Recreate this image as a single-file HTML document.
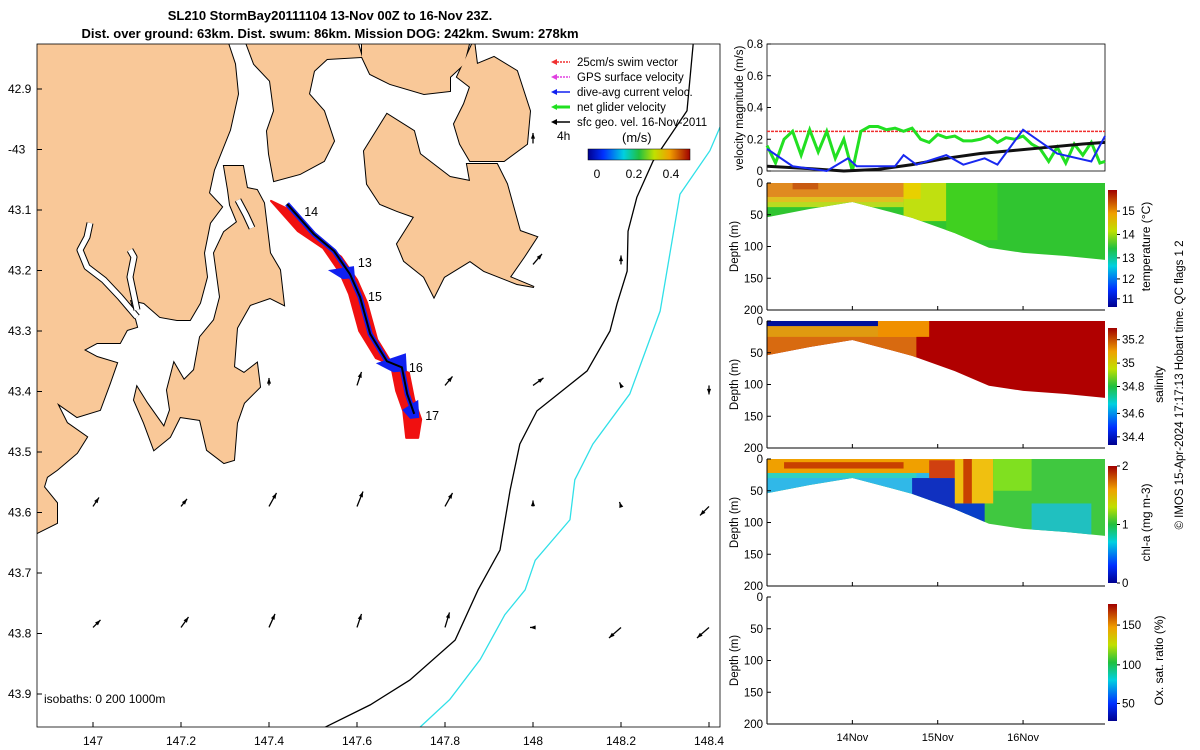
<!DOCTYPE html>
<html><head><meta charset="utf-8"><style>
body{margin:0;background:#fff;}
svg{display:block;font-family:"Liberation Sans",sans-serif;}
</style></head><body>
<svg id="c" width="1200" height="750" viewBox="0 0 1200 750" xmlns="http://www.w3.org/2000/svg">
<defs>
<linearGradient id="jet" x1="0" y1="1" x2="0" y2="0">
<stop offset="0" stop-color="#00008f"/><stop offset="0.15" stop-color="#0030ff"/><stop offset="0.35" stop-color="#00d0e0"/><stop offset="0.5" stop-color="#20c040"/><stop offset="0.65" stop-color="#c0e000"/><stop offset="0.8" stop-color="#f0a000"/><stop offset="1" stop-color="#a00000"/></linearGradient>
<linearGradient id="jeth" x1="0" y1="0" x2="1" y2="0">
<stop offset="0" stop-color="#00008f"/><stop offset="0.15" stop-color="#0030ff"/><stop offset="0.35" stop-color="#00d0e0"/><stop offset="0.5" stop-color="#20c040"/><stop offset="0.65" stop-color="#c0e000"/><stop offset="0.8" stop-color="#f0a000"/><stop offset="1" stop-color="#a00000"/></linearGradient>
<clipPath id="mapclip"><rect x="37" y="44" width="683" height="683"/></clipPath>
</defs>
<text x="330" y="20" text-anchor="middle" font-size="13" font-weight="bold">SL210 StormBay20111104 13-Nov 00Z to 16-Nov 23Z.</text>
<text x="330" y="38" text-anchor="middle" font-size="13" font-weight="bold">Dist. over ground: 63km. Dist. swum: 86km. Mission DOG: 242km. Swum: 278km</text>
<g id="map" clip-path="url(#mapclip)"></g>
<rect x="37" y="44" width="683" height="683" fill="none" stroke="#000" stroke-width="0.8"/>
<g id="mapaxes"></g>
<g id="right"></g>
<text transform="translate(1183,385) rotate(-90)" text-anchor="middle" font-size="11.5">© IMOS 15-Apr-2024 17:17:13 Hobart time. QC flags 1  2</text>
</svg>
<script>
// ---------- data ----------
const mapLonTicks=[147,147.2,147.4,147.6,147.8,148,148.2,148.4];
const mapLatTicks=[42.9,43,43.1,43.2,43.3,43.4,43.5,43.6,43.7,43.8,43.9];
const mapLatLabels=["42.9","-43","43.1","43.2","43.3","43.4","43.5","43.6","43.7","43.8","43.9"];
const trackLon=[147.441,147.502,147.548,147.584,147.607,147.630,147.668,147.702,147.714,147.730];
const trackLat=[43.090,43.140,43.168,43.206,43.244,43.305,43.350,43.360,43.404,43.437];
const dayLabels=["14","13","15","16","17"];
const dayLon=[147.48,147.602,147.625,147.718,147.755];
const dayLat=[43.11,43.194,43.25,43.368,43.447];
const arrowLon=[148.0,148.2,148.0,147.4,147.6,147.8,148.0,148.2,148.4,147.0,147.2,147.4,147.6,147.8,148.0,148.2,148.4,147.0,147.2,147.4,147.6,147.8,148.0,148.2,148.4];
const arrowLat=[42.99,43.19,43.19,43.39,43.39,43.39,43.39,43.39,43.39,43.59,43.59,43.59,43.59,43.59,43.59,43.59,43.59,43.79,43.79,43.79,43.79,43.79,43.79,43.79,43.79];
const arrowU=[0.0,0.0,0.06,0.0,0.03,0.05,0.07,-0.01,0.0,0.04,0.04,0.05,0.04,0.05,0.0,-0.01,-0.06,0.05,0.05,0.04,0.03,0.03,-0.02,-0.08,-0.08];
const arrowV=[0.07,0.06,0.07,0.05,0.09,0.06,0.05,0.02,-0.06,0.06,0.05,0.09,0.10,0.09,0.04,0.03,-0.06,0.05,0.07,0.09,0.09,0.10,0.0,-0.07,-0.07];
const iso200Lon=[148.364,148.350,148.273,148.236,148.216,148.214,148.191,148.175,148.123,148.009,147.970,147.948,147.925,147.875,147.823,147.720,147.630,147.527];
const iso200Lat=[42.826,42.936,43.019,43.079,43.135,43.201,43.255,43.300,43.366,43.432,43.487,43.563,43.662,43.728,43.811,43.877,43.918,43.955];
const iso1000Lon=[148.425,148.402,148.334,148.289,148.220,148.136,148.095,148.084,148.005,147.982,147.936,147.880,147.811,147.743];
const iso1000Lat=[42.963,43.002,43.074,43.267,43.404,43.487,43.546,43.612,43.679,43.728,43.769,43.843,43.909,43.955];
// velocity panel
const velGreenT=[0,0.1,0.2,0.3,0.4,0.5,0.6,0.7,0.8,0.9,1.0,1.1,1.2,1.3,1.4,1.5,1.6,1.7,1.8,1.9,2.0,2.1,2.2,2.3,2.4,2.5,2.6,2.7,2.8,2.9,3.0,3.1,3.2,3.3,3.4,3.5,3.6,3.7,3.8,3.9,3.96];
const velGreen=[0.16,0.05,0.2,0.25,0.1,0.26,0.12,0.25,0.08,0.2,0.0,0.25,0.28,0.28,0.26,0.27,0.25,0.27,0.2,0.18,0.23,0.21,0.22,0.19,0.19,0.2,0.22,0.18,0.21,0.2,0.22,0.17,0.14,0.06,0.15,0.05,0.17,0.1,0.18,0.05,0.06];
const velBlueT=[0,0.3,0.7,0.95,1.05,1.5,1.6,1.75,2.1,2.3,2.55,2.7,3.0,3.4,3.8,3.96];
const velBlue=[0.14,0.03,0.0,0.08,0.03,0.03,0.1,0.04,0.1,0.04,0.08,0.04,0.26,0.11,0.06,0.22];
const velBlackT=[0,0.5,0.9,1.3,1.7,2.1,2.5,2.9,3.3,3.7,3.96];
const velBlack=[0.03,0.015,0.0,0.01,0.04,0.08,0.11,0.13,0.15,0.17,0.18];
const swimSpeed=0.25;
const velTicks=[0,0.2,0.4,0.6,0.8];
// sections
const bottomT=[0,0.5,1.0,1.4,1.7,2.2,2.6,3.0,3.5,3.96];
const bottomD=[54,41,30,44,55,79,102,110,115,121];
const depthTicks=[0,50,100,150,200];
const dayTicks=[1,2,3];
const dayTickLabels=["14Nov","15Nov","16Nov"];
const tempLayers=[[0,4,0,200,"#30c530"],[0,1.6,0,38,"#b8dc20"],[0,1.6,0,30,"#e0c020"],[0,1.6,0,22,"#e08a20"],[0.3,0.6,0,10,"#c85a10"],[1.6,2.1,0,60,"#c0e010"],[1.6,1.8,0,25,"#e8d000"],[2.1,2.7,0,90,"#40d020"]];
const salLayers=[[0,4,0,200,"#b00000"],[0,1.75,0,200,"#d86a10"],[0,1.75,0,25,"#e09a10"],[0,1.6,0,8,"#00109a"],[1.3,1.9,0,25,"#f09000"]];
const chlLayers=[[0,4,0,200,"#40c840"],[0,2.25,0,200,"#30b8e8"],[0,1.75,0,30,"#30d0c0"],[0,2.2,0,22,"#f0a000"],[0.2,1.6,5,15,"#c84000"],[1.7,2.35,30,200,"#1030c0"],[2.2,2.55,50,200,"#0840c8"],[1.9,2.3,2,30,"#d04010"],[2.2,2.65,0,70,"#f0c010"],[2.3,2.4,0,70,"#c84000"],[2.65,3.1,0,50,"#80e020"],[3.1,3.8,70,200,"#20c0c0"]];
const tempCbTicks=["11","12","13","14","15"];
const tempCbFrac=[0.07,0.24,0.42,0.62,0.82];
const salCbTicks=["34.4","34.6","34.8","35","35.2"];
const salCbFrac=[0.07,0.27,0.5,0.7,0.9];
const chlCbTicks=["0","1","2"];
const chlCbFrac=[0,0.5,1];
const oxCbTicks=["50","100","150"];
const oxCbFrac=[0.15,0.48,0.82];
// ---------- helpers ----------
const NS="http://www.w3.org/2000/svg";
function mk(tag,attrs,parent,text){const e=document.createElementNS(NS,tag);for(const k in attrs)e.setAttribute(k,attrs[k]);if(text!==undefined)e.textContent=text;parent.appendChild(e);return e;}
const mx=lon=>93+(lon-147)*440;
const my=lat=>89+(lat-42.9)*605;
const map=document.getElementById('map');
const mapaxes=document.getElementById('mapaxes');
const right=document.getElementById('right');
// ---------- land ----------
const land="#f9c898";
const lg=mk('g',{},map);


const lands=[
// mainland (west)
"30,40 227,40 235,64 238,94 230,130 220,155 214,170 209,193 222,207 210,223 204,253 207,277 200,303 190,320 177,320 160,317 144,303 130,300 137,327 127,330 120,343 97,343 84,350 97,357 117,363 110,383 100,410 77,417 57,403 67,423 87,437 77,453 57,470 47,477 44,487 57,503 57,523 37,533 30,540",
// middle peninsula + southern peninsula
"224,166 243,166 247,188 257,190 264,203 270,253 280,270 284,305 270,298 250,305 237,328 234,367 244,373 257,363 260,387 244,403 237,423 234,460 224,463 207,450 200,420 180,417 170,437 154,450 144,423 134,400 137,387 147,403 164,427 170,410 167,390 174,363 184,380 194,370 200,337 214,320 220,297 214,253 224,232 237,222 230,205 228,190",
// top-middle land
"245,40 357,40 362,57 327,59 314,71 309,94 324,111 334,141 324,161 300,174 274,181 269,154 267,131 274,111 270,81 254,64",
"362,40 470,40 464,64 450,77 450,91 424,94 390,84 370,74 362,57",
"474,40 477,64 494,57 517,71 530,111 527,144 504,161 470,161 460,144 454,124 464,104 470,87 457,77",
"364,151 387,114 414,131 420,154 450,177 470,181 467,164 497,164 507,184 520,231 537,237 524,257 510,277 534,287 517,284 484,271 470,261 444,277 434,297 424,277 404,261 397,244 414,217 397,211 380,204 367,184"
];
lands.forEach(p=>{const e=mk('polygon',{points:p,fill:'none',stroke:"#000","stroke-width":2},lg);});
lands.forEach(p=>{const e=mk('polygon',{points:p,fill:land},lg);});
// river arms (water cut into land)
const arms=["137,317 120,297 104,280 87,267 80,250 87,237 90,223","137,310 130,277 134,257 130,250","238,200 246,215 252,228"];
arms.forEach(p=>{mk('polyline',{points:p,fill:'none',stroke:'#000','stroke-width':7,'stroke-linejoin':'round'},lg);const e=mk('polyline',{points:p,fill:'none',stroke:'#fff','stroke-width':5,'stroke-linejoin':'round'},lg);});
// isobaths
function line(lons,lats,col,name,w){const pts=lons.map((l,i)=>mx(l)+','+my(lats[i])).join(' ');const e=mk('polyline',{points:pts,fill:'none',stroke:col,'stroke-width':w||1.3},map);return e;}
line(iso200Lon,iso200Lat,'#000','isobath-200m');
line(iso1000Lon,iso1000Lat,'#30e0e8','isobath-1000m');
// swath (red) around track
{const L=[],R=[];trackLon.forEach((l,i)=>{const x=mx(l),y=my(trackLat[i]);const w=i<2?16:11;L.push((x-w)+','+(y-3));R.unshift((x+7)+','+(y+w*0.5));});
const last=trackLon.length-1;const xe=mx(trackLon[last]),ye=my(trackLat[last]);
const e=mk('polygon',{points:L.concat([(xe-8)+','+(ye+24),(xe+4)+','+(ye+24)]).concat(R).join(' '),fill:'#f01010',stroke:'#f01010','stroke-width':2,'stroke-linejoin':'round'},map);}
// blue current patches
[[3,22,8],[7,26,14],[9,12,14]].forEach(([i,w,h])=>{const x=mx(trackLon[i]),y=my(trackLat[i]);const e=mk('polygon',{points:`${x-w},${y-4} ${x+4},${y-h} ${x+5},${y+4} ${x-w/3},${y+5}`,fill:'#1020f0'},map);});
line(trackLon,trackLat,'#1020f0','dive-avg-track',5);
line(trackLon,trackLat,'#000','glider-track',2);
dayLabels.forEach((d,i)=>{const e=mk('text',{x:mx(dayLon[i]),y:my(dayLat[i]),'font-size':12.5},map,d);});
// arrows
arrowLon.forEach((l,i)=>{const x=mx(l),y=my(arrowLat[i]);const s=150;const x2=x+arrowU[i]*s,y2=y-arrowV[i]*s;
const g=mk('g',{},map);
mk('line',{x1:x,y1:y,x2:x2,y2:y2,stroke:'#000','stroke-width':1.3},g);
const a=Math.atan2(y2-y,x2-x);const h=6;
mk('polygon',{points:`${x2},${y2} ${x2-h*Math.cos(a-0.35)},${y2-h*Math.sin(a-0.35)} ${x2-h*Math.cos(a+0.35)},${y2-h*Math.sin(a+0.35)}`,fill:'#000'},g);});
// legend
const legItems=[["25cm/s swim vector","#f03030"],["GPS surface velocity","#e040e0"],["dive-avg current veloc.","#1020f0"],["net glider velocity","#20e020"],["sfc geo. vel. 16-Nov-2011","#000"]];
legItems.forEach((it,i)=>{const y=62+i*15;const g=mk('g',{},map);
mk('line',{x1:554,y1:y,x2:570,y2:y,stroke:it[1],'stroke-width':i==3?3:1.5,'stroke-dasharray':i<2?'2 1':''},g);
mk('polygon',{points:`${551},${y} ${557},${y-3} ${557},${y+3}`,fill:it[1]},g);
mk('text',{x:577,y:y+4,'font-size':11.5},g,it[0]);});
{const e=mk('text',{x:557,y:140,'font-size':12},map,'4h');}
{const e=mk('text',{x:622,y:142,'font-size':13},map,'(m/s)');}
{const e=mk('rect',{x:588,y:149,width:102,height:11,fill:'url(#jeth)',stroke:'#000','stroke-width':0.5},map);}
[["0",597],["0.2",634],["0.4",671]].forEach(t=>{const e=mk('text',{x:t[1],y:178,'font-size':12,'text-anchor':'middle'},map,t[0]);});
{const e=mk('text',{x:44,y:703,'font-size':12},map,'isobaths: 0   200  1000m');}
// map ticks
mapLonTicks.forEach(l=>{const x=mx(l);mk('line',{x1:x,y1:727,x2:x,y2:722,stroke:'#000'},mapaxes);const e=mk('text',{x:x,y:745,'font-size':12,'text-anchor':'middle'},mapaxes,String(l));});
mapLatTicks.forEach((l,i)=>{const y=my(l);mk('line',{x1:37,y1:y,x2:42,y2:y,stroke:'#000'},mapaxes);const e=mk('text',{x:8,y:y+4,'font-size':12},mapaxes,mapLatLabels[i]);});
// ---------- right panels ----------
const PX0=767,PX1=1105;
const tx=t=>PX0+t/3.96*(PX1-PX0);
{const top=44,bot=171;const vy=v=>bot-v/0.8*(bot-top);
const g=mk('g',{},right);
mk('rect',{x:PX0,y:top,width:PX1-PX0,height:bot-top,fill:'#fff',stroke:'#000','stroke-width':0.8},g);
velTicks.forEach(v=>{mk('line',{x1:PX0,y1:vy(v),x2:PX0+4,y2:vy(v),stroke:'#000'},g);const e=mk('text',{x:PX0-4,y:vy(v)+4,'font-size':11.5,'text-anchor':'end'},g,String(v));});
const sw=mk('line',{x1:PX0,y1:vy(swimSpeed),x2:PX1,y2:vy(swimSpeed),stroke:'#f03030','stroke-width':1.5,'stroke-dasharray':'3 1'},g);
const pl=(T,V,c,w,n)=>{const e=mk('polyline',{points:T.map((t,i)=>tx(t)+','+vy(V[i])).join(' '),fill:'none',stroke:c,'stroke-width':w},g);};
pl(velGreenT,velGreen,'#22e022',3,'net-glider-velocity-line');
pl(velBlackT,velBlack,'#111',3,'sfc-geo-velocity-line');
pl(velBlueT,velBlue,'#1828f0',2,'dive-avg-current-line');
const e=mk('text',{transform:`translate(743,108) rotate(-90)`,'font-size':11.5,'text-anchor':'middle'},g,'velocity magnitude (m/s)');}
const panels=[{top:183,layers:tempLayers,name:'temperature',label:'temperature (°C)',lx:1150,ticks:tempCbTicks,frac:tempCbFrac,data:true},
{top:321,layers:salLayers,name:'salinity',label:'salinity',lx:1163,ticks:salCbTicks,frac:salCbFrac,data:true},
{top:459,layers:chlLayers,name:'chlorophyll',label:'chl-a (mg m-3)',lx:1150,ticks:chlCbTicks,frac:chlCbFrac,data:true},
{top:597,layers:[],name:'oxygen',label:'Ox. sat. ratio (%)',lx:1163,ticks:oxCbTicks,frac:oxCbFrac,data:false}];
panels.forEach((p,pi)=>{const top=p.top,bot=top+127;const dy=d=>top+d/200*(bot-top);
const g=mk('g',{},right);
const cid='clip'+pi;const cp=mk('clipPath',{id:cid},g);
const poly=[tx(0)+','+dy(0)].concat(bottomT.map((t,i)=>tx(t)+','+dy(bottomD[i]))).concat([tx(3.96)+','+dy(0)]).join(' ');
mk('polygon',{points:poly},cp);
if(p.data){const lyr=mk('g',{'clip-path':`url(#${cid})`},g);
p.layers.forEach(L=>{const r=mk('rect',{x:tx(L[0]),y:dy(L[2]),width:tx(L[1])-tx(L[0]),height:dy(L[3])-dy(L[2]),fill:L[4]},lyr);});}
mk('line',{x1:PX0,y1:top,x2:PX0,y2:bot,stroke:'#000'},g);mk('line',{x1:PX0,y1:bot,x2:PX1,y2:bot,stroke:'#000'},g);
depthTicks.forEach(d=>{mk('line',{x1:PX0,y1:dy(d),x2:PX0+4,y2:dy(d),stroke:'#000'},g);const e=mk('text',{x:PX0-4,y:dy(d)+4,'font-size':11.5,'text-anchor':'end'},g,String(d));});
dayTicks.forEach(t=>mk('line',{x1:tx(t),y1:bot,x2:tx(t),y2:bot-4,stroke:'#000'},g));
const e=mk('text',{transform:`translate(738,${(top+bot)/2}) rotate(-90)`,'font-size':11.5,'text-anchor':'middle'},g,'Depth (m)');
const cbTop=top+7,cbH=117;
const cb=mk('rect',{x:1108,y:cbTop,width:9,height:cbH,fill:'url(#jet)'},g);
p.ticks.forEach((t,i)=>{const y=cbTop+cbH-p.frac[i]*cbH;mk('line',{x1:1117,y1:y,x2:1120,y2:y,stroke:'#000'},g);const e2=mk('text',{x:1122,y:y+4,'font-size':11.5},g,t);});
const e3=mk('text',{transform:`translate(${p.lx},${(top+bot)/2}) rotate(-90)`,'font-size':12,'text-anchor':'middle'},g,p.label);
});
dayTicks.forEach((t,i)=>{const e=mk('text',{x:tx(t),y:741,'font-size':11,'text-anchor':'middle'},right,dayTickLabels[i]);});
</script>
</body></html>
